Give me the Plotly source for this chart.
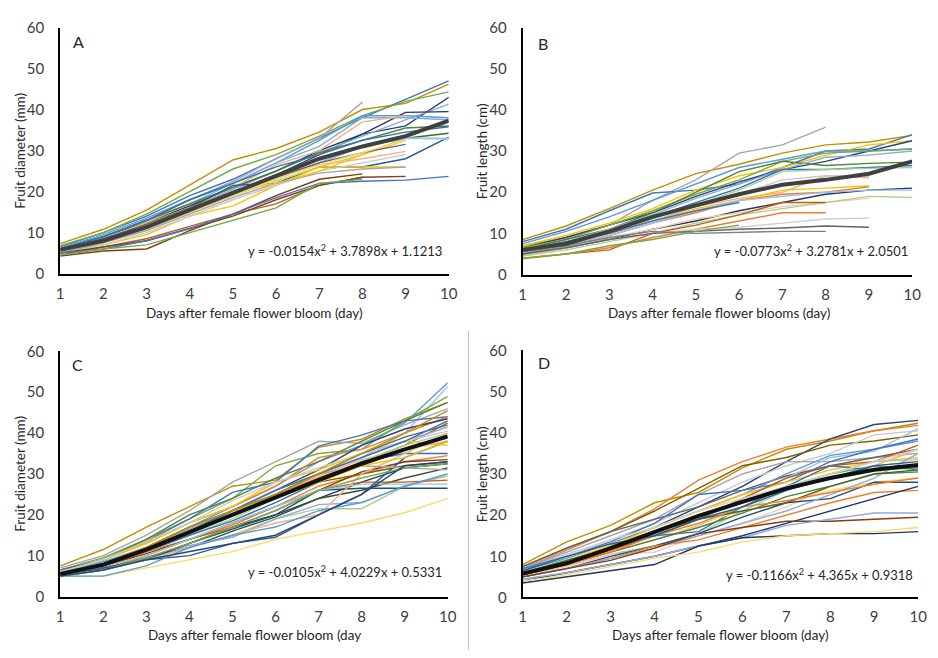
import plotly.graph_objects as go

days = [1, 2, 3, 4, 5, 6, 7, 8, 9, 10]
N = None

# ---------- Panel A: fruit diameter (mm) ----------
a_mean = [5.8, 8.0, 11.3, 15.5, 19.8, 24.0, 28.0, 31.0, 33.5, 37.3]
a_series = [
    ("#BF9000", [7.3, 10.8, 15.5, 21.5, 27.7, 30.5, 34.5, 40.0, 41.5, 46.2]),
    ("#4472C4", [6.5, 10.0, 14.0, 19.0, 23.0, 28.0, 33.0, 38.0, 42.5, 47.0]),
    ("#70AD47", [6.8, 10.0, 14.5, 20.0, 25.5, 29.0, 33.5, 38.5, 42.0, 44.3]),
    ("#A5A5A5", [6.0, 9.0, 13.0, 18.0, 22.5, 28.0, 33.0, 41.8, N, N]),
    ("#264478", [6.0, 8.5, 12.0, 16.0, 20.0, 24.0, 29.0, 34.0, 36.0, 43.0]),
    ("#8FAADC", [5.5, 8.0, 12.0, 16.0, 20.5, 25.0, 29.5, 33.5, 37.5, 41.3]),
    ("#203864", [6.0, 9.0, 12.5, 16.5, 21.0, 25.0, 30.0, 34.0, 39.3, 39.5]),
    ("#5B9BD5", [6.2, 9.5, 13.5, 18.0, 22.0, 27.0, 32.5, 38.5, 38.5, 38.0]),
    ("#7CAFDD", [6.0, 9.0, 13.0, 17.0, 22.0, 27.0, 31.0, 38.0, 38.0, 37.5]),
    ("#F4B183", [5.5, 8.5, 12.5, 17.0, 21.0, 26.5, 30.0, 37.0, 38.5, N]),
    ("#548235", [6.0, 9.0, 13.0, 17.0, 21.0, 25.0, 29.5, 32.5, 35.5, 36.0]),
    ("#255E91", [5.5, 8.0, 11.5, 16.0, 21.5, 22.0, 26.0, 26.0, 28.0, 33.3]),
    ("#43682B", [5.5, 8.0, 11.0, 15.0, 19.5, 23.0, 27.0, 31.0, 33.0, 34.2]),
    ("#A9D18E", [5.0, 7.5, 11.0, 15.0, 19.0, 22.5, 26.0, 29.0, 33.0, 33.0]),
    ("#9DC3E6", [5.5, 8.0, 11.5, 15.5, 19.5, 23.0, 27.0, 31.0, 33.0, 32.8]),
    ("#F4B183", [5.5, 8.0, 11.0, 15.0, 19.0, 23.5, 26.5, 28.0, 29.8, N]),
    ("#FFC000", [5.0, 7.0, 9.5, 14.0, 16.5, 21.5, 26.0, 26.0, 26.0, N]),
    ("#C9C9C9", [5.0, 7.0, 10.0, 14.0, 18.0, 21.5, 25.0, 27.0, 29.0, N]),
    ("#A5A5A5", [5.0, 7.5, 10.5, 14.5, 18.5, 22.0, 24.5, 25.5, 26.0, N]),
    ("#C55A11", [4.5, 6.5, 8.5, 11.5, 14.5, 17.0, 21.5, 23.5, N, N]),
    ("#843C0C", [4.3, 5.5, 6.0, 10.5, 14.5, 19.0, 23.0, 24.3, N, N]),
    ("#7F3F1F", [5.0, 6.5, 8.0, 11.0, 14.0, 18.0, 21.5, 23.5, 23.7, N]),
    ("#4472C4", [5.0, 6.0, 8.0, 11.0, 14.5, 18.5, 22.0, 22.5, 22.8, 23.7]),
    ("#70AD47", [4.5, 6.0, 7.0, 10.0, 13.0, 16.0, 22.0, 23.0, N, N]),
    ("#FFC000", [5.5, 8.0, 12.0, 16.0, 20.0, 22.0, 25.0, 29.0, 32.5, N]),
    ("#636363", [5.8, 8.5, 12.0, 16.0, 20.0, 23.5, 27.0, 29.5, 31.5, N]),
    ("#2E75B6", [6.0, 9.0, 13.0, 18.0, 22.0, 26.0, 29.0, 32.5, 34.5, 35.8]),
    ("#FFD966", [5.5, 8.0, 11.0, 15.0, 19.0, 23.0, 26.5, 29.5, 32.5, N]),
]

# ---------- Panel B: fruit length (cm) ----------
b_mean = [6.0, 7.5, 10.5, 14.0, 16.8, 19.5, 21.8, 23.0, 24.5, 27.5]
b_series = [
    ("#BF9000", [8.5, 11.8, 16.0, 20.5, 24.5, 26.8, 29.5, 31.5, 32.2, 33.8]),
    ("#A5A5A5", [7.0, 9.0, 12.0, 18.0, 23.0, 29.5, 31.5, 35.8, N, N]),
    ("#4472C4", [8.0, 11.0, 15.5, 19.8, 20.5, 22.0, 26.0, 30.0, 30.5, 34.0]),
    ("#FFC000", [7.0, 9.5, 12.5, 16.0, 20.5, 24.0, 26.0, 29.0, 31.5, 32.5]),
    ("#5B9BD5", [7.5, 10.5, 14.0, 18.0, 22.0, 26.0, 28.0, 30.0, 30.0, 30.5]),
    ("#264478", [6.5, 9.0, 12.0, 15.0, 19.0, 22.5, 25.5, 27.5, 30.0, 32.5]),
    ("#70AD47", [6.5, 8.5, 12.0, 15.5, 19.5, 23.0, 27.5, 29.5, 30.0, 30.5]),
    ("#548235", [6.0, 8.5, 11.0, 15.0, 20.0, 25.0, 27.5, 26.5, 27.0, 27.3]),
    ("#8FAADC", [6.0, 8.0, 11.0, 14.5, 18.5, 22.0, 25.5, 28.5, 29.0, 30.0]),
    ("#2E75B6", [5.5, 7.5, 10.5, 14.0, 17.5, 21.0, 25.5, 25.5, 26.0, 26.5]),
    ("#A9D18E", [5.0, 7.0, 10.0, 13.5, 17.0, 20.5, 25.0, 25.5, 25.8, 26.0]),
    ("#F4B183", [5.5, 7.5, 11.0, 14.0, 16.5, 18.5, 20.0, 24.0, 23.5, N]),
    ("#C9C9C9", [5.0, 7.0, 10.0, 13.0, 16.5, 19.5, 23.0, 24.0, 23.8, N]),
    ("#FFC000", [5.5, 7.5, 10.0, 13.0, 16.0, 18.0, 20.5, 21.0, 21.5, N]),
    ("#ED7D31", [5.0, 7.0, 9.5, 12.5, 15.0, 18.0, 19.5, 20.0, 21.3, N]),
    ("#203864", [5.0, 6.5, 8.5, 11.0, 13.0, 15.5, 17.5, 19.5, 20.5, 21.0]),
    ("#9DC3E6", [5.5, 7.0, 9.5, 12.5, 15.5, 18.0, 19.0, 20.0, 20.5, 20.5]),
    ("#F8CBAD", [4.5, 6.5, 9.0, 11.0, 13.5, 15.0, 16.5, 17.5, 18.5, N]),
    ("#A9D18E", [4.5, 6.0, 8.0, 10.0, 12.5, 14.5, 16.0, 17.5, 19.0, 18.7]),
    ("#C55A11", [4.0, 5.0, 6.0, 10.0, 12.0, 14.5, 17.5, 17.5, N, N]),
    ("#ED7D31", [4.0, 5.0, 6.5, 9.0, 11.0, 13.0, 15.0, 15.0, N, N]),
    ("#D0CECE", [5.0, 6.5, 8.5, 10.0, 11.0, 11.5, 12.5, 13.5, 13.7, N]),
    ("#636363", [5.0, 6.5, 8.5, 10.0, 10.5, 11.0, 11.3, 11.8, 11.5, N]),
    ("#7F7F7F", [5.5, 7.0, 9.0, 10.5, 10.0, 10.2, 10.5, 10.5, N, N]),
    ("#70AD47", [3.8, 5.0, 7.0, 8.5, 10.5, 12.0, N, N, N, N]),
    ("#4472C4", [6.0, 8.0, 10.0, 13.0, 15.5, 17.5, N, N, N, N]),
]

# ---------- Panel C: fruit diameter (mm) ----------
c_mean = [5.5, 7.8, 11.5, 15.8, 20.0, 24.2, 28.5, 32.5, 36.0, 39.2]
c_series = [
    ("#BF9000", [7.5, 11.5, 17.0, 22.0, 27.0, 28.5, 36.5, 38.5, 43.5, 47.5]),
    ("#A5A5A5", [7.0, 10.0, 15.0, 21.0, 28.0, 33.0, 38.0, 37.5, 42.0, 46.0]),
    ("#5B9BD5", [6.0, 8.5, 12.0, 17.0, 22.0, 27.0, 33.0, 37.0, 42.5, 52.3]),
    ("#9DC3E6", [5.5, 8.0, 12.0, 16.0, 20.0, 25.0, 30.0, 34.0, 40.0, 51.5]),
    ("#70AD47", [6.5, 9.5, 14.0, 19.0, 24.0, 32.0, 35.0, 36.0, 43.0, 49.0]),
    ("#548235", [6.0, 9.0, 14.0, 20.0, 24.0, 29.0, 33.0, 38.0, 43.0, 47.5]),
    ("#4472C4", [6.5, 9.0, 13.5, 19.0, 25.5, 28.0, 36.8, 39.5, 43.0, 44.0]),
    ("#ED7D31", [6.0, 9.0, 13.0, 18.0, 22.0, 27.0, 34.0, 36.0, 40.0, 44.0]),
    ("#264478", [5.5, 8.0, 12.0, 17.0, 21.0, 26.0, 31.0, 37.0, 41.0, 43.5]),
    ("#C55A11", [5.5, 8.0, 12.0, 16.0, 20.0, 25.0, 29.0, 33.0, 37.0, 42.5]),
    ("#8FAADC", [5.5, 8.0, 11.5, 15.5, 20.0, 25.0, 30.0, 34.0, 38.0, 41.5]),
    ("#FFC000", [6.0, 9.0, 13.0, 18.0, 22.0, 28.0, 31.0, 35.0, 38.0, 37.0]),
    ("#A9D18E", [5.5, 8.0, 11.0, 15.0, 19.0, 24.0, 28.0, 33.0, 37.0, 40.0]),
    ("#F4B183", [5.5, 7.5, 11.0, 16.0, 20.5, 25.0, 29.5, 33.5, 36.0, 38.0]),
    ("#2E75B6", [5.0, 7.5, 11.0, 15.0, 18.5, 23.0, 28.0, 33.0, 35.0, 35.0]),
    ("#C9C9C9", [6.0, 9.0, 13.5, 18.0, 23.5, 28.0, 31.5, 35.0, 38.0, 40.5]),
    ("#ED7D31", [5.0, 7.5, 11.0, 14.0, 17.5, 22.0, 27.0, 30.0, 33.0, 34.5]),
    ("#843C0C", [5.5, 7.5, 10.5, 14.0, 18.0, 22.0, 26.0, 30.5, 33.0, 33.5]),
    ("#7F6000", [5.5, 8.0, 11.5, 15.5, 20.0, 24.0, 28.0, 30.0, 32.0, 33.0]),
    ("#203864", [5.0, 7.0, 9.0, 13.0, 17.0, 20.0, 24.0, 28.0, 31.5, 32.5]),
    ("#375623", [5.0, 7.0, 9.5, 12.0, 16.0, 19.5, 24.0, 26.0, 29.0, 31.5]),
    ("#A9D18E", [5.0, 6.5, 9.0, 12.0, 15.0, 19.0, 21.5, 21.5, 27.0, 29.5]),
    ("#8FAADC", [4.8, 6.5, 9.5, 12.5, 14.5, 19.0, 22.5, 23.0, 27.0, 30.0]),
    ("#C55A11", [5.0, 7.0, 10.0, 14.0, 17.0, 21.0, 26.0, 28.0, 28.0, 28.5]),
    ("#1F4E79", [5.0, 7.0, 9.0, 13.0, 16.5, 20.0, 26.0, 26.5, 26.5, 26.5]),
    ("#9DC3E6", [5.0, 7.0, 10.0, 14.0, 18.0, 22.0, 26.0, 27.5, 27.5, 27.5]),
    ("#2F5597", [5.0, 7.0, 9.0, 10.0, 13.0, 14.5, 20.0, 25.0, 34.0, 38.0]),
    ("#F4B183", [5.0, 6.5, 9.0, 12.0, 15.0, 18.0, 20.0, 30.0, 35.0, 40.0]),
    ("#FFD966", [5.0, 5.0, 7.0, 9.0, 11.0, 14.0, 16.0, 18.0, 20.5, 24.0]),
    ("#A5A5A5", [5.5, 8.0, 12.0, 16.5, 21.0, 26.0, 30.0, 32.0, 31.5, 31.0]),
    ("#FFC000", [5.5, 8.0, 12.0, 16.0, 20.0, 24.0, 28.0, 32.0, 34.0, 38.0]),
    ("#636363", [5.5, 8.0, 11.5, 16.0, 21.0, 25.0, 30.0, 35.0, 39.0, 42.0]),
    ("#70AD47", [5.0, 6.5, 9.5, 13.0, 17.0, 21.0, 26.0, 29.0, 31.5, 32.5]),
    ("#2E75B6", [5.5, 8.0, 12.0, 16.0, 21.0, 26.0, 30.0, 34.0, 38.0, 43.0]),
    ("#BF9000", [5.5, 8.0, 12.0, 17.0, 21.0, 25.0, 30.0, 35.0, 40.0, 45.5]),
    ("#5B9BD5", [5.0, 5.0, 7.5, 12.0, 15.0, 17.0, 21.0, 23.0, 27.0, 30.0]),
    ("#264478", [5.0, 6.5, 9.0, 11.0, 13.0, 15.0, 20.0, 25.0, 32.0, 33.0]),
]

# ---------- Panel D: fruit length (cm) ----------
d_mean = [5.8, 8.3, 12.0, 16.0, 19.8, 23.2, 26.5, 29.0, 31.0, 32.2]
d_series = [
    ("#BF9000", [8.0, 13.5, 17.5, 23.0, 25.5, 31.5, 36.0, 38.0, 40.5, 42.3]),
    ("#ED7D31", [7.0, 11.5, 16.0, 21.5, 28.5, 33.0, 36.5, 38.5, 40.5, 41.8]),
    ("#264478", [7.0, 10.0, 13.0, 17.0, 22.0, 27.0, 33.0, 38.5, 42.0, 43.0]),
    ("#7F6000", [7.5, 12.0, 16.0, 21.0, 26.5, 32.0, 34.0, 37.0, 38.0, 39.5]),
    ("#C9C9C9", [7.0, 10.5, 14.0, 18.0, 23.0, 28.0, 32.0, 35.0, 39.5, 40.5]),
    ("#A5A5A5", [7.0, 11.0, 15.0, 19.0, 25.0, 30.0, 33.0, 33.0, 34.0, 35.0]),
    ("#636363", [7.5, 12.0, 16.0, 19.0, 22.0, 26.0, 29.5, 32.0, 34.0, 36.0]),
    ("#5B9BD5", [6.5, 9.5, 13.0, 17.0, 21.0, 25.0, 30.0, 34.5, 36.0, 38.0]),
    ("#9DC3E6", [6.0, 9.0, 12.0, 15.5, 19.0, 24.0, 29.0, 34.0, 35.5, 41.0]),
    ("#4472C4", [7.0, 10.0, 13.5, 18.0, 25.0, 26.0, 28.0, 33.0, 36.0, 38.5]),
    ("#FFC000", [6.0, 9.0, 12.5, 17.0, 21.0, 25.0, 28.0, 31.0, 33.0, 34.0]),
    ("#70AD47", [6.0, 8.5, 11.5, 15.5, 20.0, 23.5, 27.0, 30.0, 32.0, 31.0]),
    ("#C55A11", [5.5, 8.0, 11.5, 15.0, 19.0, 24.0, 29.0, 32.0, 33.0, 37.0]),
    ("#F4B183", [5.5, 8.0, 11.0, 14.0, 17.5, 22.0, 26.0, 29.0, 32.0, 36.0]),
    ("#2E75B6", [6.0, 8.5, 12.0, 15.0, 16.0, 22.0, 27.0, 32.0, 31.0, 31.5]),
    ("#A9D18E", [5.5, 7.5, 10.5, 12.5, 15.5, 21.0, 26.0, 30.0, 33.0, 33.5]),
    ("#548235", [5.5, 8.0, 11.0, 14.0, 17.0, 20.5, 24.5, 27.0, 30.0, 30.5]),
    ("#F8CBAD", [5.0, 7.5, 10.5, 11.0, 15.0, 18.0, 22.0, 27.0, 30.0, 34.0]),
    ("#FFD966", [6.0, 9.0, 13.0, 16.0, 18.0, 21.0, 23.0, 26.0, 28.0, 29.0]),
    ("#1F4E79", [5.0, 7.0, 10.0, 12.5, 15.5, 19.5, 23.0, 24.0, 28.0, 28.0]),
    ("#ED7D31", [5.0, 7.0, 9.5, 12.5, 14.0, 17.0, 20.0, 23.0, 25.5, 26.0]),
    ("#8FAADC", [5.0, 7.0, 9.5, 12.0, 15.0, 18.0, 21.0, 25.0, 29.0, 35.0]),
    ("#203864", [4.0, 6.0, 8.0, 10.0, 12.5, 15.0, 18.0, 21.0, 24.0, 27.0]),
    ("#843C0C", [5.0, 7.0, 9.0, 12.0, 15.5, 17.0, 18.5, 18.5, 19.0, 19.5]),
    ("#8FAADC", [4.5, 6.0, 8.0, 10.0, 12.5, 14.5, 17.5, 19.0, 20.5, 20.5]),
    ("#1F3864", [3.5, 5.0, 6.5, 8.0, 12.5, 14.5, 15.0, 15.5, 15.5, 16.0]),
    ("#FFD966", [4.0, 5.5, 7.5, 9.5, 11.0, 13.5, 15.0, 15.5, 16.0, 17.0]),
    ("#43682B", [6.0, 9.0, 12.0, 16.0, 19.0, 21.0, 23.0, 27.0, 30.0, 31.0]),
    ("#D0CECE", [6.5, 10.0, 14.0, 17.0, 21.0, 24.0, 27.0, 30.0, 33.0, 36.0]),
    ("#ED7D31", [5.5, 8.0, 11.0, 15.0, 18.0, 22.0, 23.5, 25.5, 27.5, 29.0]),
    ("#255E91", [6.5, 10.0, 13.0, 15.0, 19.0, 22.0, 26.0, 29.0, 32.0, 33.0]),
]

panels = [
    ("", a_series, a_mean, "#404040"),
    ("2", b_series, b_mean, "#404040"),
    ("3", c_series, c_mean, "#111111"),
    ("4", d_series, d_mean, "#111111"),
]

W, H = 938, 658
def px(x):
    return x / W
def py(y):
    return 1 - y / H

fig = go.Figure()
for suffix, series, mean, mcol in panels:
    for col, vals in series:
        fig.add_trace(go.Scatter(x=days, y=vals, mode="lines", xaxis="x" + suffix, yaxis="y" + suffix,
                                 line=dict(color=col, width=1.4), connectgaps=False,
                                 hoverinfo="skip", showlegend=False))
    fig.add_trace(go.Scatter(x=days, y=mean, mode="lines", xaxis="x" + suffix, yaxis="y" + suffix,
                             line=dict(color=mcol, width=4), hoverinfo="skip", showlegend=False))

font = "Lato, 'Open Sans', sans-serif"
tickfont = dict(family=font, size=15, color="#404040")
domains = {
    "": ([57, 451], [271, 18]),
    "2": ([526, 921], [272, 18]),
    "3": ([57, 450], [603, 351]),
    "4": ([526, 927], [604, 350]),
}
layout = dict(width=W, height=H, margin=dict(l=0, r=0, t=0, b=0),
              paper_bgcolor="white", plot_bgcolor="white", showlegend=False)
for suffix, (xd, yd) in domains.items():
    layout["xaxis" + suffix] = dict(domain=[px(xd[0]), px(xd[1])], range=[1, 10], anchor="y" + suffix,
                                    tickmode="array", tickvals=days, ticktext=[str(d) for d in days],
                                    showgrid=False, zeroline=False, showline=True, linecolor="black",
                                    linewidth=2, ticks="", tickfont=tickfont, fixedrange=True,
                                    ticklabelstandoff=5, ticklabeloverflow="allow")
    layout["yaxis" + suffix] = dict(domain=[py(yd[0]), py(yd[1])], range=[0, 60], anchor="x" + suffix,
                                    tickmode="array", tickvals=[0, 10, 20, 30, 40, 50, 60],
                                    showgrid=False, zeroline=False, showline=True, linecolor="black",
                                    linewidth=2, ticks="", tickfont=tickfont, fixedrange=True,
                                    ticklabelstandoff=11, ticklabeloverflow="allow")
fig.update_layout(**layout)

texts = [
    # letters
    ("A", 76, 32, 16, 0, "center"), ("B", 547, 34, 16, 0, "center"),
    ("C", 75, 364, 16, 0, "center"), ("D", 548, 362, 16, 0, "center"),
    # equations (right-aligned)
    ("y = -0.0154x<sup>2</sup> + 3.7898x + 1.1213", 446, 247, 13, 0, "right"),
    ("y = -0.0773x<sup>2</sup> + 3.2781x + 2.0501", 919, 247, 13, 0, "right"),
    ("y = -0.0105x<sup>2</sup> + 4.0229x + 0.5331", 446, 577, 13, 0, "right"),
    ("y = -0.1166x<sup>2</sup> + 4.365x + 0.9318", 924, 580, 13, 0, "right"),
    # x titles
    ("Days after female flower bloom (day)", 254, 312, 13.5, 0, "center"),
    ("Days after female flower blooms (day)", 725, 312, 13.5, 0, "center"),
    ("Days after female flower bloom (day", 254, 643, 13.5, 0, "center"),
    ("Days after female flower bloom (day)", 726, 643, 13.5, 0, "center"),
    # y titles
    ("Fruit diameter (mm)", 16, 145, 13.5, -90, "center"),
    ("Fruit length (cm)", 485, 145, 13.5, -90, "center"),
    ("Fruit diameter (mm)", 16, 477, 13.5, -90, "center"),
    ("Fruit length (cm)", 485, 477, 13.5, -90, "center"),
]
for t, x, y, s, ang, al in texts:
    fig.add_annotation(text=t, x=px(x), y=py(y), xref="paper", yref="paper", showarrow=False,
                       textangle=ang, xanchor=al, yanchor="middle",
                       font=dict(family=font, size=s, color="#262626"))

fig.add_shape(type="line", xref="paper", yref="paper", x0=px(471), x1=px(471), y0=py(330), y1=py(658),
              line=dict(color="#BFBFBF", width=1))

fig.write_html("out.html", config={"displayModeBar": False, "staticPlot": True},
               post_script="document.body.style.margin='0px';document.body.style.overflow='hidden';")
